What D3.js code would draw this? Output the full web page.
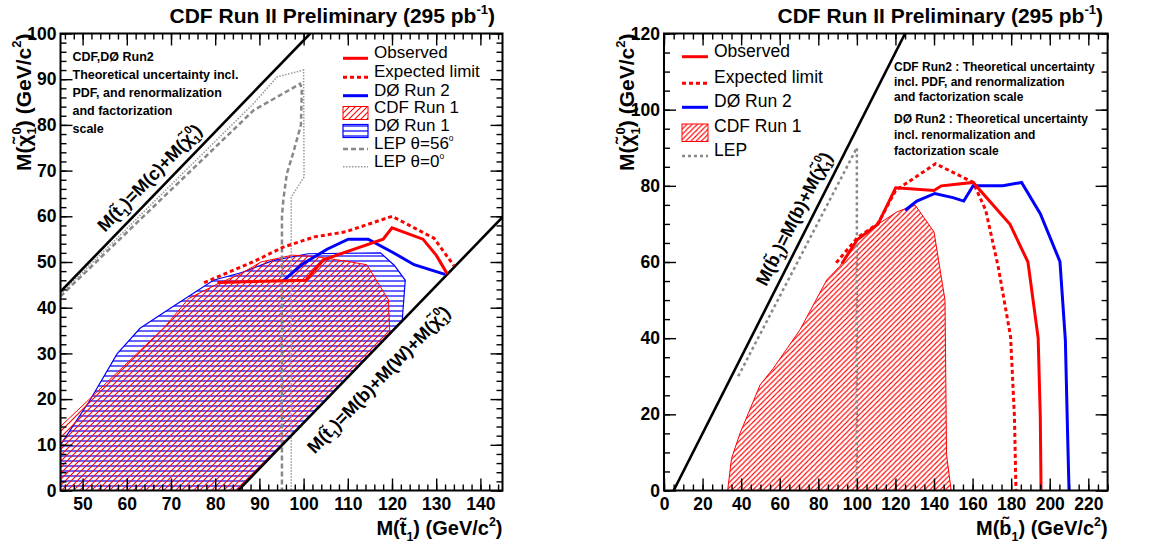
<!DOCTYPE html>
<html><head><meta charset="utf-8">
<script src="https://cdn.jsdelivr.net/npm/d3@7"></script>
<style>
html,body{margin:0;padding:0;background:#fff;}
text{font-family:"Liberation Sans",Arial,Helvetica,sans-serif;}
</style></head>
<body>
<script>
// ---------------- DATA ----------------
// Left panel: stop -> c + neutralino
const leftXTicks = [50,60,70,80,90,100,110,120,130,140];
const leftYTicks = [0,10,20,30,40,50,60,70,80,90,100];
const stopCdfObserved = [[80.5,45.5],[100.5,46],[104.5,50.5],[118,55],[120,57.5],[127,55],[130,51.5],[132.5,47.4]];
const stopCdfExpected = [[77.5,45.5],[88.5,50],[95.5,53.3],[102.5,55.5],[109.5,56.6],[120,60],[129.5,55.2],[134,49.2]];
const stopD0Run2 = [[95.3,45.8],[99.7,49.5],[105.3,52.8],[110.1,55],[114.6,55],[120,52.2],[125,49.4],[132,47.3]];
const stopCdfRun1 = [[45,0],[45,14],[51,19.5],[68.6,35.8],[74,42],[80.5,45.2],[86,47.5],[90.3,50],[97.5,51.5],[102.5,51.2],[109.5,50.2],[114.3,49.4],[119.2,41.7],[119.5,34.5],[85.2,0]];
const stopD0Run1 = [[45,0],[45,10],[51.7,19.8],[57.8,29.9],[63,35.5],[70.2,40.1],[79.6,46],[86,47.7],[93,50.3],[101,51.8],[117.4,52],[120.5,49.3],[123,46],[122.3,37.1],[85.2,0]];
const stopLep56 = [[45,42.5],[88.7,83.2],[94.7,86.5],[99.2,89],[99.6,88],[99.4,80],[97.6,73.7],[96.2,69.3],[95.4,63.5],[95.1,59.9],[95.1,0]];
const stopLep0 = [[45,43],[88.7,84.7],[94,90.5],[100,92],[100.1,68.6],[97.2,64.2],[97.2,0]];
const stopLineC = [[45,43.5],[101.5,100]];          // M(t)=M(c)+M(chi)
const stopLineBW = [[85.2,0],[145,59.8]];           // M(t)=M(b)+M(W)+M(chi)

// Right panel: sbottom -> b + neutralino
const rightXTicks = [0,20,40,60,80,100,120,140,160,180,200,220];
const rightYTicks = [0,20,40,60,80,100,120];
const sbotCdfObserved = [[92.2,59.6],[100.3,65.9],[110.9,69.9],[120.1,79.5],[140,78.8],[143.8,80],[160.3,80.9],[179.4,69.9],[188.7,60],[194,40],[195.1,19.4],[195.5,0]];
const sbotCdfExpected = [[89.3,59.8],[100.3,66.4],[110.9,70.1],[120.1,78.8],[140.8,85.8],[160.3,80.9],[166.8,73.6],[173.3,58.7],[179.7,40.4],[181.7,19.4],[182.5,0]];
const sbotD0Run2 = [[125,73.6],[131.1,76],[140.4,78],[149.8,76.9],[155.4,76],[160.3,80],[175.7,80],[185.4,80.9],[195.1,72.7],[205.3,60.1],[208.1,39.5],[209.3,14],[210,0]];
const sbotCdfRun1 = [[33,0],[35,8.4],[39.4,15],[49.8,27.7],[56.7,32.1],[70.5,42.2],[84.4,55.3],[91.2,58.9],[100,65.8],[110.3,69.7],[120.9,73.2],[130.3,74.9],[140,67.9],[145.7,50],[146.5,9.4],[148.9,0]];
const sbotLep = [[38.5,30],[100,90],[100,0]];
const sbotLineB = [[5,0],[125,120]];                // M(b)=M(b)+M(chi)

const titleText = "CDF Run II Preliminary (295 pb";

// ---------------- DRAW ----------------
const W = 1151, H = 550;
const svg = d3.select("body").append("svg").attr("width", W).attr("height", H);
svg.append("rect").attr("width", W).attr("height", H).attr("fill", "#fff");
const defs = svg.append("defs");

function hatchRed(id, s) {
  const p = defs.append("pattern").attr("id", id).attr("patternUnits", "userSpaceOnUse")
    .attr("width", s).attr("height", s);
  p.append("path").attr("d", `M${-s/4},${s/4} L${s/4},${-s/4} M0,${s} L${s},0 M${s*0.75},${s*1.25} L${s*1.25},${s*0.75}`)
    .attr("stroke", "#ff0000").attr("stroke-width", 1.1).attr("fill", "none");
}
hatchRed("hatchRedL", 6);
hatchRed("hatchRedR", 5.2);
(function(){
  const p = defs.append("pattern").attr("id", "hatchBlue").attr("patternUnits", "userSpaceOnUse")
    .attr("width", 8).attr("height", 5);
  p.append("rect").attr("x", 0).attr("y", 0).attr("width", 8).attr("height", 2)
    .attr("fill", "#0000ff").attr("fill-opacity", 0.6);
})();

// rich text helper: parts [{t, sub, sup, dx}]
function rich(sel, parts, fs) {
  let cur = 0;
  parts.forEach(p => {
    const ts = sel.append("tspan").text(p.t);
    let target = 0, size = fs;
    if (p.sub) { target = 0.28 * fs; size = 0.62 * fs; }
    if (p.sup) { target = -0.45 * fs; size = (p.small ? 0.5 : 0.62) * fs; }
    ts.attr("dy", (target - cur).toFixed(2)).attr("font-size", size);
    if (p.dx) ts.attr("dx", p.dx);
    cur = target;
  });
  return sel;
}
const chiParts = (fs) => [{t:"M("},{t:"\u03C7\u0303"},{t:"1", sub:true},{t:"0", sup:true, dx:-0.62*fs*0.556},{t:")"}];

function panel(cfg) {
  const x = d3.scaleLinear().domain(cfg.xd).range(cfg.xr);
  const y = d3.scaleLinear().domain(cfg.yd).range([490.5, 33.5]);
  const g = svg.append("g");
  const clipId = "clip" + cfg.id;
  defs.append("clipPath").attr("id", clipId).append("rect")
    .attr("x", cfg.xr[0]).attr("y", 33.5).attr("width", cfg.xr[1]-cfg.xr[0]).attr("height", 457);
  const plot = g.append("g").attr("clip-path", `url(#${clipId})`);
  const line = d3.line().x(d => x(d[0])).y(d => y(d[1]));
  return {x, y, g, plot, line};
}

function axes(P, cfg) {
  const {x, y, g} = P;
  const top = 33.5, bot = 490.5, left = cfg.xr[0], right = cfg.xr[1];
  const style = s => { s.select(".domain").remove(); s.selectAll("line").attr("stroke", "#000").attr("stroke-width", 1.4); };
  const lab = s => s.selectAll("text").attr("font-size", 17.5).attr("font-weight", "bold").attr("fill", "#000")
      .attr("font-family", '"Liberation Sans",Arial,sans-serif');
  g.append("g").attr("transform", `translate(0,${bot})`)
    .call(d3.axisBottom(x).tickValues(cfg.xMajor).tickSizeInner(-12).tickSizeOuter(0).tickPadding(7).tickFormat(d3.format("d")))
    .call(style).call(lab);
  g.append("g").attr("transform", `translate(0,${bot})`)
    .call(d3.axisBottom(x).tickValues(cfg.xMinor).tickSize(-6).tickFormat("")).call(style);
  g.append("g").attr("transform", `translate(0,${top})`)
    .call(d3.axisTop(x).tickValues(cfg.xMajor).tickSize(-12).tickFormat("")).call(style);
  g.append("g").attr("transform", `translate(0,${top})`)
    .call(d3.axisTop(x).tickValues(cfg.xMinor).tickSize(-6).tickFormat("")).call(style);
  g.append("g").attr("transform", `translate(${left},0)`)
    .call(d3.axisLeft(y).tickValues(cfg.yMajor).tickSizeInner(-12).tickSizeOuter(0).tickPadding(4).tickFormat(d3.format("d")))
    .call(style).call(lab);
  g.append("g").attr("transform", `translate(${left},0)`)
    .call(d3.axisLeft(y).tickValues(cfg.yMinor).tickSize(-6).tickFormat("")).call(style);
  g.append("g").attr("transform", `translate(${right},0)`)
    .call(d3.axisRight(y).tickValues(cfg.yMajor).tickSize(-12).tickFormat("")).call(style);
  g.append("g").attr("transform", `translate(${right},0)`)
    .call(d3.axisRight(y).tickValues(cfg.yMinor).tickSize(-6).tickFormat("")).call(style);
  g.append("rect").attr("x", left).attr("y", top).attr("width", right-left).attr("height", bot-top)
    .attr("fill", "none").attr("stroke", "#000").attr("stroke-width", 2);

  // title
  const t = g.append("text").attr("x", cfg.titleX).attr("y", 23).attr("text-anchor", "end")
    .attr("font-weight", "bold").attr("font-size", 21);
  rich(t, [{t: titleText}, {t: "-1", sup:true}, {t: ")"}], 21);
  // x title
  const xt = g.append("text").attr("x", right).attr("y", 535).attr("text-anchor", "end")
    .attr("font-weight", "bold").attr("font-size", 20);
  rich(xt, [{t:"M(" + cfg.xsym + "\u0303"},{t:"1", sub:true},{t:") (GeV/c"},{t:"2", sup:true},{t:")"}], 20);
  // y title
  const yt = g.append("text").attr("transform", `translate(${left-30},${top}) rotate(-90)`)
    .attr("text-anchor", "end").attr("font-weight", "bold").attr("font-size", 21);
  rich(yt, [...chiParts(21), {t:" (GeV/c"},{t:"2", sup:true},{t:")"}], 21);
}

function lineLabel(P, seg, ax, off, parts, fs) {
  const {x, y, g} = P;
  const slope = (seg[1][1]-seg[0][1])/(seg[1][0]-seg[0][0]);
  const ay = seg[0][1] + slope*(ax - seg[0][0]);
  const ang = Math.atan2(y(seg[1][1]) - y(seg[0][1]), x(seg[1][0]) - x(seg[0][0])) * 180 / Math.PI;
  const t = g.append("text").attr("transform", `translate(${x(ax)},${y(ay)}) rotate(${ang})`)
    .attr("x", 0).attr("y", off).attr("text-anchor", "middle").attr("font-weight", "bold").attr("font-size", fs);
  rich(t, parts, fs);
}

function legendLine(g, x1, x2, yy, color, w, dash) {
  g.append("line").attr("x1", x1).attr("x2", x2).attr("y1", yy).attr("y2", yy)
    .attr("stroke", color).attr("stroke-width", w).attr("stroke-dasharray", dash || null);
}
function legendText(g, xx, yy, parts, fs) {
  const t = g.append("text").attr("x", xx).attr("y", yy).attr("dy", "0.36em").attr("font-size", fs);
  rich(t, parts, fs);
}

// ===== LEFT PANEL =====
const cfgL = {id:"L", xd:[45,145], xr:[60.5,502.5], yd:[0,100], xMajor:leftXTicks, xMinor:d3.range(46,145,2),
  yMajor:leftYTicks, yMinor:d3.range(0,101,2), titleX:495, xsym:"t"};
const PL = panel(cfgL);
PL.plot.append("path").attr("d", PL.line(stopD0Run1) + "Z").attr("fill", "url(#hatchBlue)").attr("stroke", "#0000ff").attr("stroke-width", 1.2);
PL.plot.append("path").attr("d", PL.line(stopCdfRun1) + "Z").attr("fill", "url(#hatchRedL)").attr("stroke", "#ff0000").attr("stroke-width", 1);
PL.plot.append("path").attr("d", PL.line(stopLep56)).attr("fill", "none").attr("stroke", "#888").attr("stroke-width", 2.5).attr("stroke-dasharray", "5,3");
PL.plot.append("path").attr("d", PL.line(stopLep0)).attr("fill", "none").attr("stroke", "#999").attr("stroke-width", 1.5).attr("stroke-dasharray", "1.5,1.5");
PL.plot.append("path").attr("d", PL.line(stopLineC)).attr("fill", "none").attr("stroke", "#000").attr("stroke-width", 2.6);
PL.plot.append("path").attr("d", PL.line(stopLineBW)).attr("fill", "none").attr("stroke", "#000").attr("stroke-width", 2.6);
PL.plot.append("path").attr("d", PL.line(stopCdfExpected)).attr("fill", "none").attr("stroke", "#ff0000").attr("stroke-width", 3).attr("stroke-dasharray", "4,3");
PL.plot.append("path").attr("d", PL.line(stopD0Run2)).attr("fill", "none").attr("stroke", "#0000ff").attr("stroke-width", 3);
PL.plot.append("path").attr("d", PL.line(stopCdfObserved)).attr("fill", "none").attr("stroke", "#ff0000").attr("stroke-width", 3);
axes(PL, cfgL);
lineLabel(PL, stopLineC, 67.6, -9, [{t:"M(t\u0303"},{t:"1",sub:true},{t:")=M(c)+"}, ...chiParts(18)], 18);
lineLabel(PL, stopLineBW, 113.1, 30, [{t:"M(t\u0303"},{t:"1",sub:true},{t:")=M(b)+M(W)+"}, ...chiParts(18)], 18);

// left text block
const tbL = ["CDF,D\u00D8 Run2","Theoretical uncertainty incl.","PDF, and renormalization","and factorization","scale"];
const tbLy = [61, 78.5, 96.8, 115, 132.8];
tbL.forEach((s,i) => PL.g.append("text").attr("x", 72.5).attr("y", tbLy[i]).attr("font-size", 12.5).attr("font-weight", "bold").text(s));

// left legend
const lgL = PL.g.append("g");
legendLine(lgL, 343, 368, 58.3, "#ff0000", 3);
legendText(lgL, 374, 58.3, [{t:"Observed"}], 17);
legendLine(lgL, 343, 368, 77.3, "#ff0000", 3, "4,3");
legendText(lgL, 374, 77.3, [{t:"Expected limit"}], 17);
legendLine(lgL, 343, 368, 95.7, "#0000ff", 3);
legendText(lgL, 374, 95.7, [{t:"D\u00D8 Run 2"}], 17);
lgL.append("rect").attr("x", 343).attr("y", 106.5).attr("width", 25).attr("height", 13).attr("fill", "url(#hatchRedL)").attr("stroke", "#ff0000").attr("stroke-width", 1);
legendText(lgL, 374, 113.3, [{t:"CDF Run 1"}], 17);
lgL.append("rect").attr("x", 343).attr("y", 124.5).attr("width", 25).attr("height", 13).attr("fill", "url(#hatchBlue)").attr("stroke", "#0000ff").attr("stroke-width", 1.2);
legendText(lgL, 374, 131, [{t:"D\u00D8 Run 1"}], 17);
legendLine(lgL, 343, 368, 149, "#888", 2.5, "5,3");
legendText(lgL, 374, 149, [{t:"LEP \u03B8=56"},{t:"o",sup:true,small:true}], 17);
legendLine(lgL, 343, 368, 166.7, "#999", 1.5, "1.5,1.5");
legendText(lgL, 374, 166.7, [{t:"LEP \u03B8=0"},{t:"o",sup:true,small:true}], 17);

// ===== RIGHT PANEL =====
const cfgR = {id:"R", xd:[0,230], xr:[664,1107.6], yd:[0,120], xMajor:rightXTicks, xMinor:d3.range(0,231,5),
  yMajor:rightYTicks, yMinor:d3.range(0,121,5), titleX:1103, xsym:"b"};
const PR = panel(cfgR);
PR.plot.append("path").attr("d", PR.line(sbotCdfRun1) + "Z").attr("fill", "url(#hatchRedR)").attr("stroke", "#ff0000").attr("stroke-width", 1);
PR.plot.append("path").attr("d", PR.line(sbotLep)).attr("fill", "none").attr("stroke", "#888").attr("stroke-width", 2.5).attr("stroke-dasharray", "3,3");
PR.plot.append("path").attr("d", PR.line(sbotLineB)).attr("fill", "none").attr("stroke", "#000").attr("stroke-width", 2.6);
PR.plot.append("path").attr("d", PR.line(sbotCdfExpected)).attr("fill", "none").attr("stroke", "#ff0000").attr("stroke-width", 3).attr("stroke-dasharray", "4,3");
PR.plot.append("path").attr("d", PR.line(sbotD0Run2)).attr("fill", "none").attr("stroke", "#0000ff").attr("stroke-width", 3);
PR.plot.append("path").attr("d", PR.line(sbotCdfObserved)).attr("fill", "none").attr("stroke", "#ff0000").attr("stroke-width", 3);
axes(PR, cfgR);
lineLabel(PR, sbotLineB, 74.5, -9.4, [{t:"M(b\u0303"},{t:"1",sub:true},{t:")=M(b)+"}, ...chiParts(18)], 18);

const tbR = ["CDF Run2 : Theoretical uncertainty","incl. PDF, and renormalization","and factorization scale",
             "D\u00D8 Run2 : Theoretical uncertainty","incl. renormalization and","factorization scale"];
const tbRy = [70.7, 86, 101.2, 123.3, 139.3, 154.5];
tbR.forEach((s,i) => PR.g.append("text").attr("x", 894).attr("y", tbRy[i]).attr("font-size", 12).attr("font-weight", "bold").text(s));

const lgR = PR.g.append("g");
legendLine(lgR, 682, 708, 56.7, "#ff0000", 3);
legendText(lgR, 714, 56.7, [{t:"Observed"}], 17.5);
legendLine(lgR, 682, 708, 83.3, "#ff0000", 3, "4,3");
legendText(lgR, 714, 83.3, [{t:"Expected limit"}], 17.5);
legendLine(lgR, 682, 708, 107.3, "#0000ff", 3);
legendText(lgR, 714, 107.3, [{t:"D\u00D8 Run 2"}], 17.5);
lgR.append("rect").attr("x", 682).attr("y", 124).attr("width", 26).attr("height", 17.5).attr("fill", "url(#hatchRedR)").attr("stroke", "#ff0000").attr("stroke-width", 1);
legendText(lgR, 714, 132.3, [{t:"CDF Run 1"}], 17.5);
legendLine(lgR, 682, 708, 156, "#888", 2.5, "3,3");
legendText(lgR, 714, 156, [{t:"LEP"}], 17.5);
</script>
</body></html>
